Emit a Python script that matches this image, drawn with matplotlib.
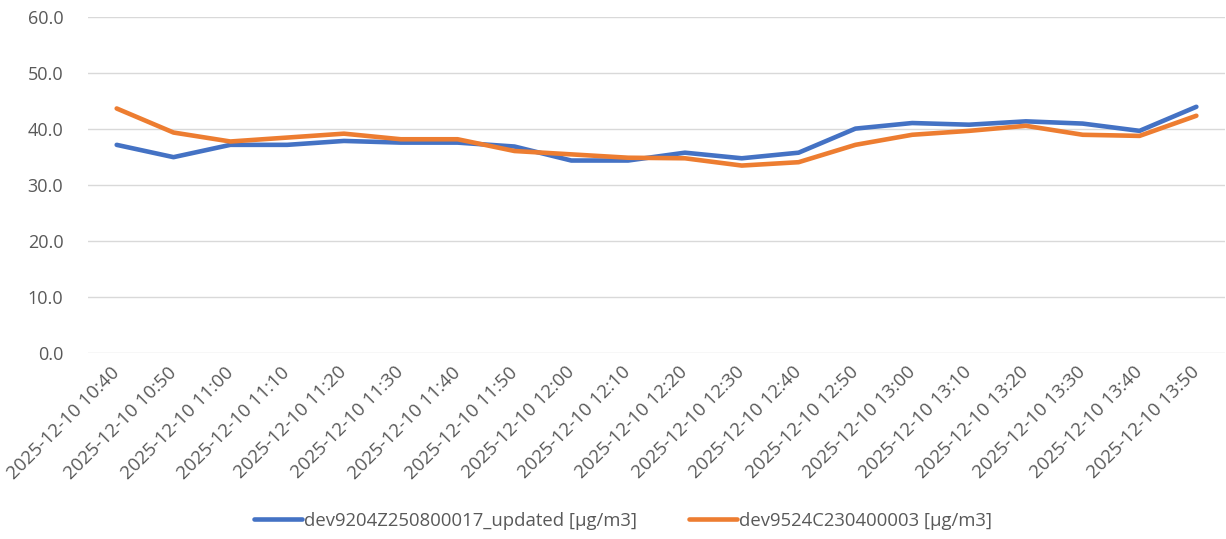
import matplotlib
matplotlib.use("Agg")
import matplotlib.pyplot as plt

# 데이터
times = ["10:40", "10:50", "11:00", "11:10", "11:20", "11:30", "11:40", "11:50",
         "12:00", "12:10", "12:20", "12:30", "12:40", "12:50", "13:00", "13:10",
         "13:20", "13:30", "13:40", "13:50"]
labels = ["2025-12-10 " + t for t in times]

dev_a = [37.2, 35.0, 37.2, 37.2, 37.9, 37.6, 37.6, 36.9, 34.4, 34.4,
         35.8, 34.8, 35.8, 40.1, 41.1, 40.8, 41.4, 41.0, 39.7, 44.0]
dev_b = [43.7, 39.4, 37.8, 38.5, 39.2, 38.2, 38.2, 36.1, 35.5, 34.9,
         34.8, 33.5, 34.1, 37.2, 39.0, 39.7, 40.6, 39.0, 38.8, 42.4]
name_a = "dev9204Z250800017_updated [µg/m3]"
name_b = "dev9524C230400003 [µg/m3]"

plt.rcParams['font.family'] = ['Open Sans', 'DejaVu Sans']

fig = plt.figure(figsize=(12.26, 5.39), dpi=100)
ax = fig.add_axes([0.072, 0.345, 0.927, 0.623])

x = range(len(labels))
ax.plot(x, dev_a, color="#4472C4", lw=3.3, solid_capstyle="round", label=name_a)
ax.plot(x, dev_b, color="#ED7D31", lw=3.3, solid_capstyle="round", label=name_b)

ax.set_ylim(0, 60)
ax.set_yticks(range(0, 61, 10))
ax.set_yticklabels([f"{v:.1f}" for v in range(0, 61, 10)])
ax.set_xlim(-0.5, len(labels) - 0.5)
ax.set_xticks(list(x))
ax.set_xticklabels(labels, rotation=45, ha="right", va="center", rotation_mode="anchor")

ax.grid(axis="y", color="#D9D9D9", lw=1)
ax.set_axisbelow(True)
for s in ax.spines.values():
    s.set_visible(False)
ax.tick_params(axis="both", length=0, labelcolor="#595959")
ax.tick_params(axis="y", pad=18, labelsize=13)
ax.tick_params(axis="x", pad=12, labelsize=13.5)

fig.legend(loc="center", bbox_to_anchor=(0.508, 0.034), ncol=2, frameon=False,
           fontsize=13.3, labelcolor="#595959", handlelength=2.6, handletextpad=0.1,
           columnspacing=2.8)

fig.savefig("out.png", dpi=100)
